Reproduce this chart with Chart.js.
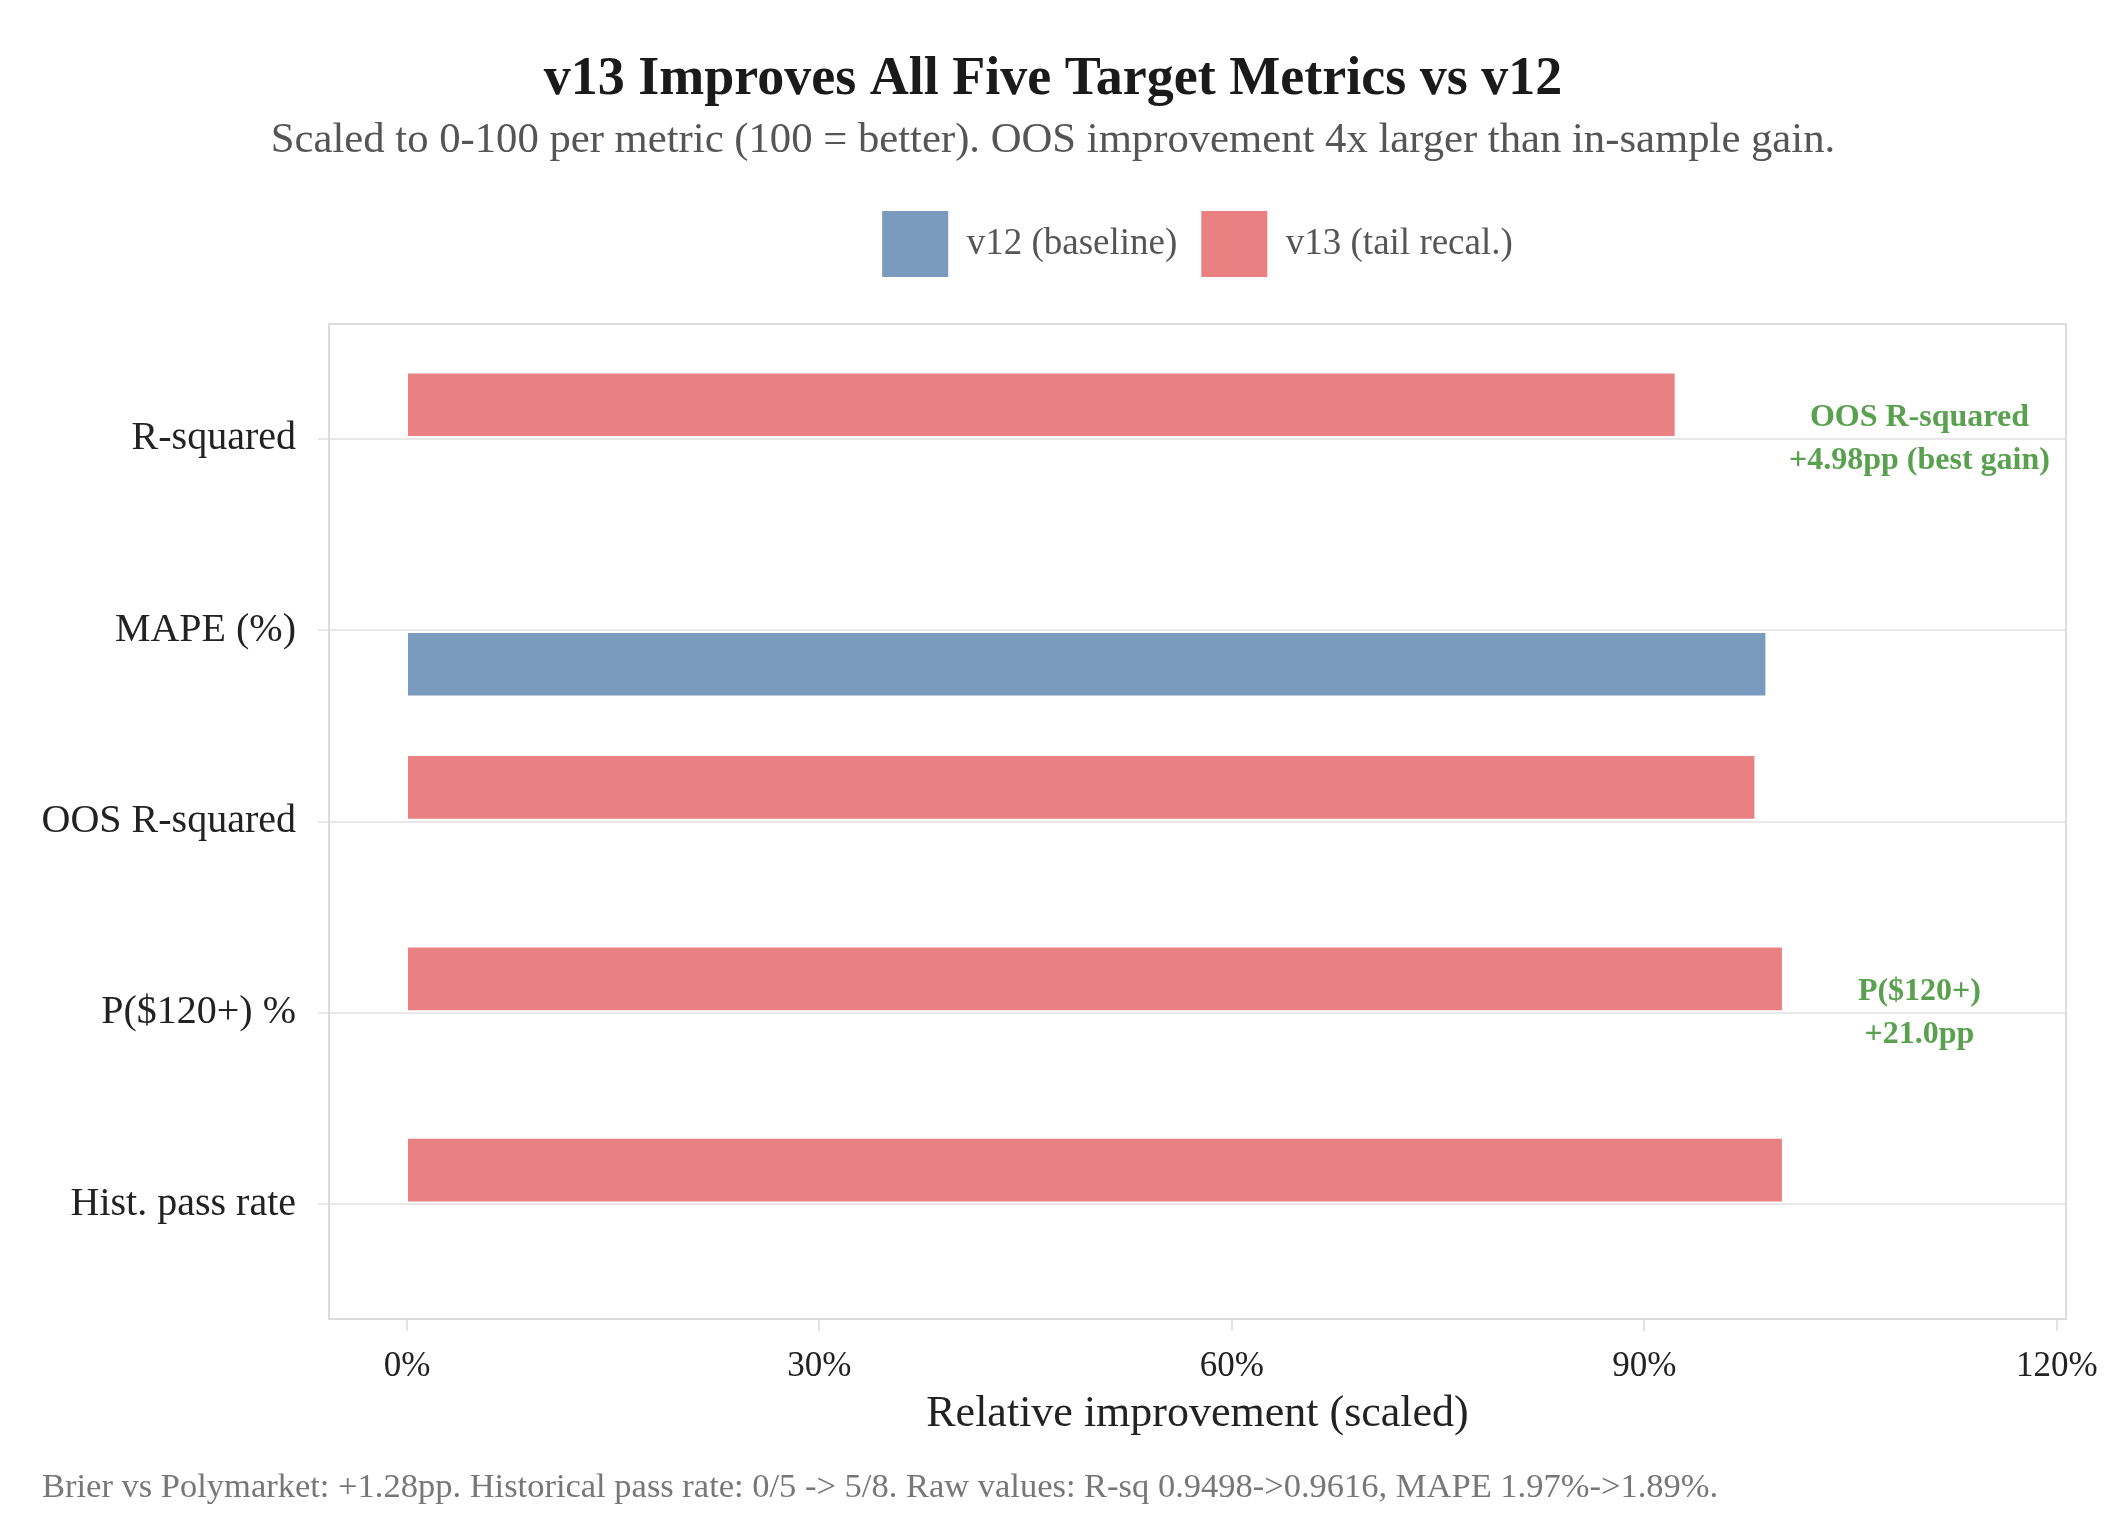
<!DOCTYPE html>
<html>
<head>
<meta charset="utf-8">
<script src="https://cdn.jsdelivr.net/npm/chart.js@4.4.1/dist/chart.umd.min.js"></script>
<style>
  html, body { margin: 0; padding: 0; background: #fff; }
  #wrap { width: 2125px; height: 1535px; position: relative; }
</style>
</head>
<body>
<div id="wrap"><canvas id="chart"></canvas></div>
<script>
// Chart data (scaled 0-100 per metric)
const categories = ['R-squared', 'MAPE (%)', 'OOS R-squared', 'P($120+) %', 'Hist. pass rate'];
const v12Values = [0, 98.8, 0, 0, 0];
const v13Values = [92.2, 0, 98.0, 100, 100];
const seriesNames = ['v12 (baseline)', 'v13 (tail recal.)'];
const xTickValues = [0, 30, 60, 90, 120];

// Green call-outs on the right
const noteRows = [0, 3];
const noteX = [110, 110];
const noteLines = [['OOS R-squared', '+4.98pp (best gain)'], ['P($120+)', '+21.0pp']];

const captionText = 'Brier vs Polymarket: +1.28pp. Historical pass rate: 0/5 -> 5/8. Raw values: R-sq 0.9498->0.9616, MAPE 1.97%->1.89%.';

const FONT = "'Liberation Serif', 'Times New Roman', serif";
Chart.defaults.font.family = FONT;

const blue = 'rgba(78,121,167,0.75)';
const red = 'rgba(225,87,89,0.75)';
const green = '#59a14f';

// panel border, annotations and caption
const extras = {
    id: 'extras',
    beforeDatasetsDraw(chart) {
        const { ctx, chartArea: a } = chart;
        ctx.save();
        ctx.strokeStyle = '#dcdcdc';
        ctx.lineWidth = 2;
        ctx.strokeRect(a.left, a.top, a.right - a.left, a.bottom - a.top);
        ctx.restore();
    },
    afterDatasetsDraw(chart) {
        const { ctx, scales } = chart;
        ctx.save();
        ctx.fillStyle = green;
        ctx.font = 'bold 32px ' + FONT;
        ctx.textAlign = 'center';
        ctx.textBaseline = 'middle';
        noteRows.forEach((row, i) => {
            const px = scales.x.getPixelForValue(noteX[i]);
            const py = scales.y.getPixelForValue(row);
            ctx.fillText(noteLines[i][0], px, py - 21.5);
            ctx.fillText(noteLines[i][1], px, py + 21.5);
        });
        ctx.restore();
    },
    afterDraw(chart) {
        const ctx = chart.ctx;
        ctx.save();
        ctx.fillStyle = '#777';
        ctx.font = '34.5px ' + FONT;
        ctx.textAlign = 'left';
        ctx.textBaseline = 'middle';
        ctx.fillText(captionText, 42, 1488);
        ctx.restore();
    }
};

new Chart(document.getElementById('chart'), {
    type: 'bar',
    data: {
        // v13 first so it sits in the upper slot of each group
        datasets: [
            {
                label: seriesNames[1],
                data: v13Values.map((v, i) => ({ x: v, y: i })),
                backgroundColor: red,
                barPercentage: 0.92,
                categoryPercentage: 0.7125
            },
            {
                label: seriesNames[0],
                data: v12Values.map((v, i) => ({ x: v, y: i })),
                backgroundColor: blue,
                barPercentage: 0.92,
                categoryPercentage: 0.7125
            }
        ]
    },
    plugins: [extras],
    options: {
        indexAxis: 'y',
        responsive: true,
        maintainAspectRatio: false,
        animation: false,
        layout: { padding: { left: 40, right: 59, top: 0, bottom: 0 } },
        plugins: {
            tooltip: { enabled: false },
            title: {
                display: true,
                text: 'v13 Improves All Five Target Metrics vs v12',
                color: '#1a1a1a',
                font: { size: 54, weight: 'bold' },
                padding: { top: 48, bottom: 2 }
            },
            subtitle: {
                display: true,
                text: 'Scaled to 0-100 per metric (100 = better). OOS improvement 4x larger than in-sample gain.',
                color: '#555',
                font: { size: 42.7 },
                padding: { top: 0, bottom: 21 }
            },
            legend: {
                position: 'top',
                fullSize: false,
                reverse: true,
                labels: {
                    boxWidth: 66,
                    boxHeight: 66,
                    padding: 24,
                    color: '#555',
                    font: { size: 37 }
                }
            }
        },
        scales: {
            x: {
                type: 'linear',
                position: 'bottom',
                min: -5.67,
                max: 120.66,
                afterBuildTicks: s => { s.ticks = xTickValues.map(v => ({ value: v })); },
                afterFit: s => { s.height = 216; },
                grid: { drawOnChartArea: false, drawTicks: true, tickLength: 12, color: '#e3e3e3', lineWidth: 2 },
                border: { display: false },
                ticks: {
                    padding: 15,
                    color: '#222',
                    font: { size: 35 },
                    callback: v => v + '%'
                },
                title: {
                    display: true,
                    text: 'Relative improvement (scaled)',
                    color: '#222',
                    font: { size: 44 },
                    padding: { top: 0, bottom: 94 }
                }
            },
            y: {
                type: 'linear',
                position: 'left',
                reverse: true,
                offset: false,
                min: -0.6,
                max: 4.6,
                afterBuildTicks: s => { s.ticks = categories.map((c, i) => ({ value: i })); },
                afterFit: s => { s.width = 289; },
                grid: { offset: false, color: '#e8e8e8', lineWidth: 2, tickLength: 11 },
                border: { display: false },
                ticks: {
                    padding: 22,
                    color: '#222',
                    font: { size: 40 },
                    callback: v => categories[v]
                }
            },
            // empty strip between legend and panel
            gap: {
                type: 'linear',
                position: 'top',
                display: true,
                grid: { display: false },
                border: { display: false },
                ticks: { display: false },
                afterFit: s => { s.height = 37; }
            }
        }
    }
});
</script>
</body>
</html>
